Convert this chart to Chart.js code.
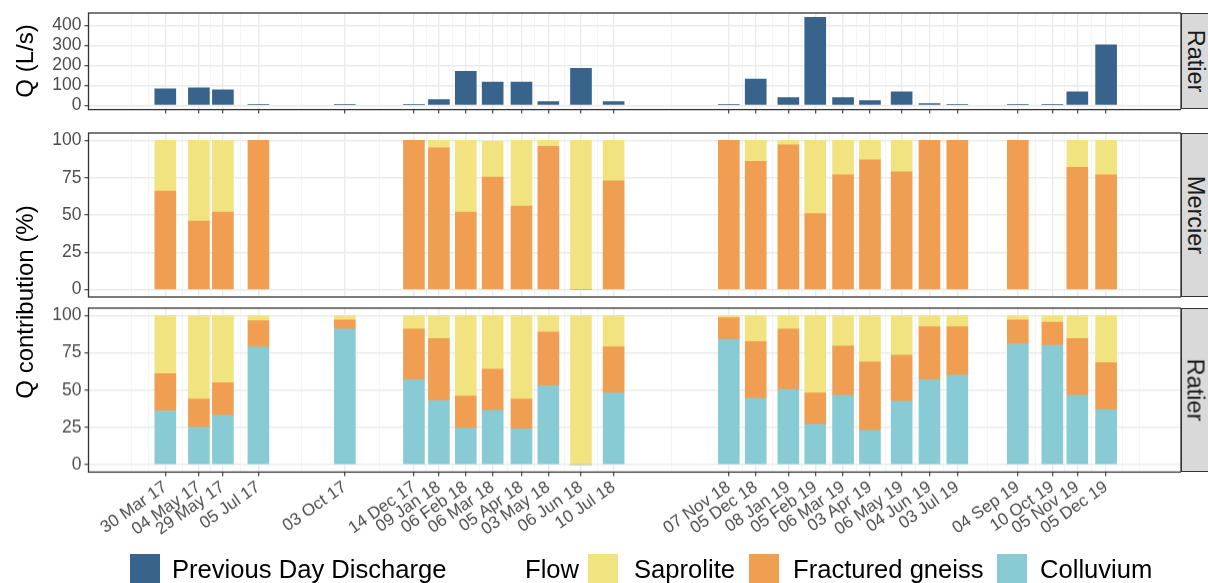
<!DOCTYPE html>
<html lang="en">
<head>
<meta charset="UTF-8">
<title>Discharge and flow contributions</title>
<script src="https://cdn.jsdelivr.net/npm/chart.js@4.4.1/dist/chart.umd.min.js"></script>
<style>
  body { margin: 0; width: 1208px; height: 583px; overflow: hidden; background: #fff;
         position: relative; font-family: "Liberation Sans", Arial, sans-serif; }
  .panel { position: absolute; left: 0; width: 1181px; }
  .strip { position: absolute; left: 1180.5px; width: 30px; background: #d9d9d9;
           border: 1.3px solid #333; box-sizing: border-box; }
  .strip span { position: absolute; left: 13.5px; top: 50%; white-space: nowrap;
                transform: translate(-50%, -50%) rotate(90deg); font-size: 23.5px; color: #1a1a1a; }
  .ytitle { position: absolute; white-space: nowrap; font-size: 24px; color: #000;
            transform: translate(-50%, -50%) rotate(-90deg); }
  .key { position: absolute; top: 554px; width: 30px; height: 30px; }
  .lab { position: absolute; top: 555px; line-height: 28px; font-size: 25.6px; color: #000; white-space: nowrap; }
</style>
</head>
<body>
  <div class="panel" style="top:-7.3px;height:141.6px"><canvas id="qChart"></canvas></div>
  <div class="panel" style="top:113.3px;height:209px"><canvas id="mercierChart"></canvas></div>
  <div class="panel" style="top:288.3px;height:283.4px"><canvas id="ratierChart"></canvas></div>

  <div class="strip" style="top:12.7px;height:96.6px"><span>Ratier</span></div>
  <div class="strip" style="top:133.3px;height:164px"><span>Mercier</span></div>
  <div class="strip" style="top:308.3px;height:163.4px"><span>Ratier</span></div>

  <div class="ytitle" style="left:25px;top:61px">Q (L/s)</div>
  <div class="ytitle" style="left:25px;top:302px">Q contribution (%)</div>

  <div class="key" style="left:130px;background:#38648c"></div>
  <div class="lab" style="left:172px">Previous Day Discharge</div>
  <div class="lab" style="left:525px">Flow</div>
  <div class="key" style="left:588px;background:#f1e480"></div>
  <div class="lab" style="left:634px">Saprolite</div>
  <div class="key" style="left:749px;background:#f09e52"></div>
  <div class="lab" style="left:793px">Fractured gneiss</div>
  <div class="key" style="left:997px;background:#89cbd4"></div>
  <div class="lab" style="left:1040px">Colluvium</div>

<script>
// sampling dates and their axis labels
const sampleDates = ['2017-03-30', '2017-05-04', '2017-05-29', '2017-07-05', '2017-10-03',
  '2017-12-14', '2018-01-09', '2018-02-06', '2018-03-06', '2018-04-05', '2018-05-03',
  '2018-06-06', '2018-07-10', '2018-11-07', '2018-12-05', '2019-01-08', '2019-02-05',
  '2019-03-06', '2019-04-03', '2019-05-06', '2019-06-04', '2019-07-03', '2019-09-04',
  '2019-10-10', '2019-11-05', '2019-12-05'];
const dateLabels = ['30 Mar 17', '04 May 17', '29 May 17', '05 Jul 17', '03 Oct 17',
  '14 Dec 17', '09 Jan 18', '06 Feb 18', '06 Mar 18', '05 Apr 18', '03 May 18',
  '06 Jun 18', '10 Jul 18', '07 Nov 18', '05 Dec 18', '08 Jan 19', '05 Feb 19',
  '06 Mar 19', '03 Apr 19', '06 May 19', '04 Jun 19', '03 Jul 19', '04 Sep 19',
  '10 Oct 19', '05 Nov 19', '05 Dec 19'];

// previous day discharge at Ratier (L/s)
const discharge = [82, 87, 77, 4, 4, 4, 28, 170, 116, 116, 18, 185, 18, 4, 131, 38, 440,
  38, 23, 67, 8, 4, 4, 4, 67, 302];

// Mercier contributions (%), null = no sample
const mercierSaprolite = [34, 54, 48, 0, null, 0, 5, 48, 24, 44, 4, 100, 27, 0, 14, 3, 49,
  23, 13, 21, 0, 0, 0, null, 18, 23];
const mercierGneiss = [66, 46, 52, 100, null, 100, 95, 52, 75.5, 56, 96, 0, 73, 100, 86, 97,
  51, 77, 87, 79, 100, 100, 100, null, 82, 77];

// Ratier contributions (%)
const ratierSaprolite = [39, 56, 45, 3.5, 3, 9, 15.5, 54, 36, 56, 11, 100, 21, 1.5, 17.5, 9,
  52, 20.5, 31, 26.5, 7.5, 7.5, 3, 4.5, 15.5, 31.5];
const ratierGneiss = [25, 19, 22, 17.5, 6, 34, 41.5, 21.5, 27.5, 20, 36, 0, 31, 14.5, 38, 40.5,
  21, 33, 46, 31, 35.5, 32.5, 16, 15.5, 38, 31.5];
const ratierColluvium = [36, 25, 33, 79, 91, 57, 43, 24.5, 36.5, 24, 53, 0, 48, 84, 44.5, 50.5,
  27, 46.5, 23, 42.5, 57, 60, 81, 80, 46.5, 37];

const qTicks = [0, 100, 200, 300, 400];
const pctTicks = [0, 25, 50, 75, 100];

const colors = { discharge: '#38648c', saprolite: '#f1e480', gneiss: '#f09e52', colluvium: '#89cbd4' };

Chart.defaults.font.family = '"Liberation Sans", Arial, sans-serif';

const DAY = 86400000;
const t0 = Date.parse(sampleDates[0]);
const days = sampleDates.map(d => (Date.parse(d) - t0) / DAY);
const xMin = -80, xMax = 1058;

// ggplot-like minor breaks: midpoints, extended one step past each end
function withMinor(b, lo, hi) {
  const bd = b[1] - b[0];
  const ext = [b[0] - bd, ...b, b[b.length - 1] + bd];
  const out = [];
  for (let i = 0; i < ext.length - 1; i++) out.push(ext[i], (ext[i] + ext[i + 1]) / 2);
  out.push(ext[ext.length - 1]);
  return out.filter(v => v >= lo && v <= hi);
}
const xTicks = withMinor(days, xMin, xMax);

const gridOpts = {
  offset: false, tickLength: 4, tickWidth: 1.1,
  color: c => c.tick && c.tick.main ? '#ebebeb' : '#f2f2f2',
  lineWidth: c => c.tick && c.tick.main ? 1.4 : 0.8,
  tickColor: c => c.tick && c.tick.main ? '#333333' : 'rgba(0,0,0,0)'
};

function xScale(showLabels, showTicks, height) {
  return {
    type: 'linear', min: xMin, max: xMax, offset: false, stacked: true,
    afterBuildTicks: s => { s.ticks = xTicks.map(v => ({ value: v, main: days.includes(v) })); },
    afterFit: s => { s.height = height; },
    border: { display: false },
    grid: Object.assign({}, gridOpts, { drawTicks: showTicks }),
    ticks: {
      display: showLabels, autoSkip: false, maxRotation: 35, minRotation: 35, padding: 1,
      color: '#4d4d4d', font: { size: 17 },
      callback: v => { const i = days.indexOf(v); return i >= 0 ? dateLabels[i] : ''; }
    }
  };
}

function yScale(min, max, mains) {
  const all = withMinor(mains, min, max);
  return {
    min: min, max: max, stacked: true,
    afterBuildTicks: s => { s.ticks = all.map(v => ({ value: v, main: mains.includes(v) })); },
    afterFit: s => { s.width = 88.5; },
    border: { display: false },
    grid: Object.assign({}, gridOpts, { drawTicks: true }),
    ticks: { color: '#4d4d4d', font: { size: 17.5 }, padding: 3,
      callback: v => mains.includes(v) ? String(v) : '' }
  };
}

const panelBorder = {
  id: 'panelBorder',
  afterDraw(chart) {
    const { ctx, chartArea: a } = chart;
    ctx.save();
    ctx.strokeStyle = '#333333';
    ctx.lineWidth = 1.3;
    ctx.strokeRect(a.left, a.top, a.right - a.left, a.bottom - a.top);
    ctx.restore();
  }
};

function points(values) {
  return days.map((x, i) => ({ x: x, y: values[i] })).filter(p => p.y !== null);
}

function bars(label, values, color) {
  return { label: label, data: points(values), backgroundColor: color, borderWidth: 0, barThickness: 21 };
}

function makeChart(id, datasets, x, y) {
  return new Chart(document.getElementById(id), {
    type: 'bar',
    data: { datasets: datasets },
    options: {
      responsive: true, maintainAspectRatio: false, animation: false,
      layout: { padding: { top: 20, left: 0, right: 0, bottom: 0 } },
      plugins: { legend: { display: false }, tooltip: { enabled: false } },
      scales: { x: x, y: y }
    },
    plugins: [panelBorder]
  });
}

makeChart('qChart',
  [bars('Previous Day Discharge', discharge, colors.discharge)],
  xScale(false, true, 25), yScale(-22, 462, qTicks));

makeChart('mercierChart',
  [bars('Fractured gneiss', mercierGneiss, colors.gneiss),
   bars('Saprolite', mercierSaprolite, colors.saprolite)],
  xScale(false, false, 25), yScale(-5, 105, pctTicks));

makeChart('ratierChart',
  [bars('Colluvium', ratierColluvium, colors.colluvium),
   bars('Fractured gneiss', ratierGneiss, colors.gneiss),
   bars('Saprolite', ratierSaprolite, colors.saprolite)],
  xScale(true, true, 100), yScale(-5, 105, pctTicks));
</script>
</body>
</html>
